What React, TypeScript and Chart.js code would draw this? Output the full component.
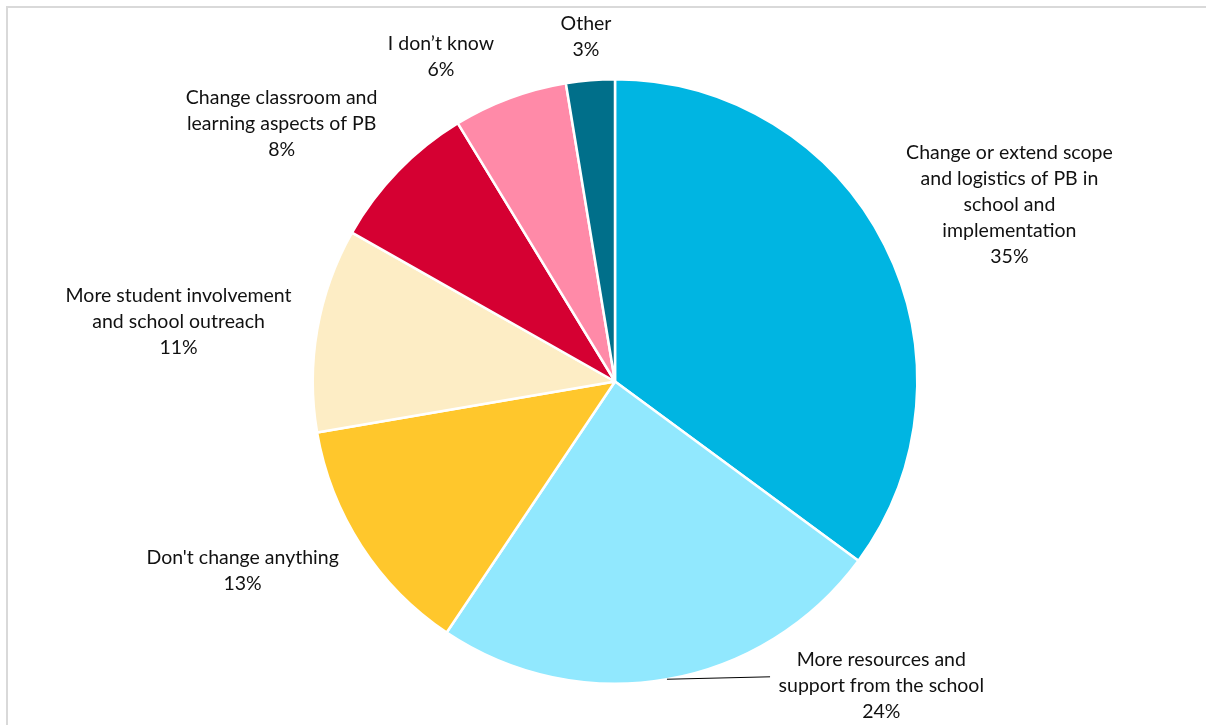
import React, { useEffect, useRef } from "react";
import { Chart, registerables } from "chart.js";

Chart.register(...registerables);

const categories: string[][] = [
  ["Change or extend scope", "and logistics of PB in", "school and", "implementation"],
  ["More resources and", "support from the school"],
  ["Don't change anything"],
  ["More student involvement", "and school outreach"],
  ["Change classroom and", "learning aspects of PB"],
  ["I don\u2019t know"],
  ["Other"],
];
const shares = [35.1, 24.3, 12.9, 10.9, 8.1, 6.1, 2.6];
const sliceColors = ["#00B5E2", "#91E8FE", "#FFC72C", "#FDEDC5", "#D50032", "#FF8AA8", "#006F8A"];

// label block centres, relative to pie centre in units of the outer radius
const labelOffsets: [number, number][] = [
  [1.305, -0.584],
  [0.881, 1.007],
  [-1.232, 0.626],
  [-1.444, -0.199],
  [-1.103, -0.853],
  [-0.576, -1.076],
  [-0.096, -1.142],
];
// leader line end points (same units), null when no leader line
const leaderEnds: ([number, number] | null)[] = [null, [0.513, 0.977], null, null, null, null, null];

const FONT = "Lato, 'Open Sans', sans-serif";
const LINE_H = 26;

const labelPlugin = {
  id: "pieLabels",
  beforeDraw(chart: any) {
    const ctx = chart.ctx;
    ctx.save();
    ctx.strokeStyle = "#d9d9d9";
    ctx.lineWidth = 2;
    ctx.beginPath();
    ctx.moveTo(7, chart.height + 5);
    ctx.lineTo(7, 7);
    ctx.lineTo(chart.width + 5, 7);
    ctx.stroke();
    ctx.restore();
  },
  afterDraw(chart: any) {
    const ctx = chart.ctx;
    const meta = chart.getDatasetMeta(0);
    ctx.save();
    meta.data.forEach((arc: any, i: number) => {
      const { x, y, outerRadius, startAngle, endAngle } = arc.getProps(
        ["x", "y", "outerRadius", "startAngle", "endAngle"],
        true
      );
      const r = outerRadius;
      const lx = x + labelOffsets[i][0] * r;
      const ly = y + labelOffsets[i][1] * r;
      const le = leaderEnds[i];
      if (le) {
        const mid = (startAngle + endAngle) / 2;
        ctx.strokeStyle = "#000";
        ctx.lineWidth = 1;
        ctx.beginPath();
        ctx.moveTo(x + Math.cos(mid) * r, y + Math.sin(mid) * r);
        ctx.lineTo(x + le[0] * r, y + le[1] * r);
        ctx.stroke();
      }
      const lines = [...categories[i], Math.round(shares[i]) + "%"];
      ctx.fillStyle = "#111";
      ctx.font = `19.5px ${FONT}`;
      ctx.textAlign = "center";
      ctx.textBaseline = "middle";
      lines.forEach((t, k) => {
        ctx.fillText(t, lx, ly + (k - (lines.length - 1) / 2) * LINE_H);
      });
    });
    ctx.restore();
  },
};

export default function App() {
  const ref = useRef<HTMLCanvasElement>(null);
  useEffect(() => {
    if (!ref.current) return;
    const chart = new Chart(ref.current, {
      type: "pie",
      data: {
        labels: categories.map((c) => c.join(" ")),
        datasets: [
          {
            data: shares,
            backgroundColor: sliceColors,
            borderColor: "#ffffff",
            borderWidth: 2.5,
          },
        ],
      },
      options: {
        responsive: false,
        animation: false,
        devicePixelRatio: 1,
        layout: { padding: { top: 78, bottom: 40, left: 100, right: 76 } },
        plugins: { legend: { display: false }, tooltip: { enabled: false } },
      },
      plugins: [labelPlugin],
    });
    return () => chart.destroy();
  }, []);
  return (
    <div style={{ position: "fixed", left: 0, top: 0, width: 1206, height: 725, background: "#fff" }}>
      <canvas ref={ref} width={1206} height={725} />
    </div>
  );
}
